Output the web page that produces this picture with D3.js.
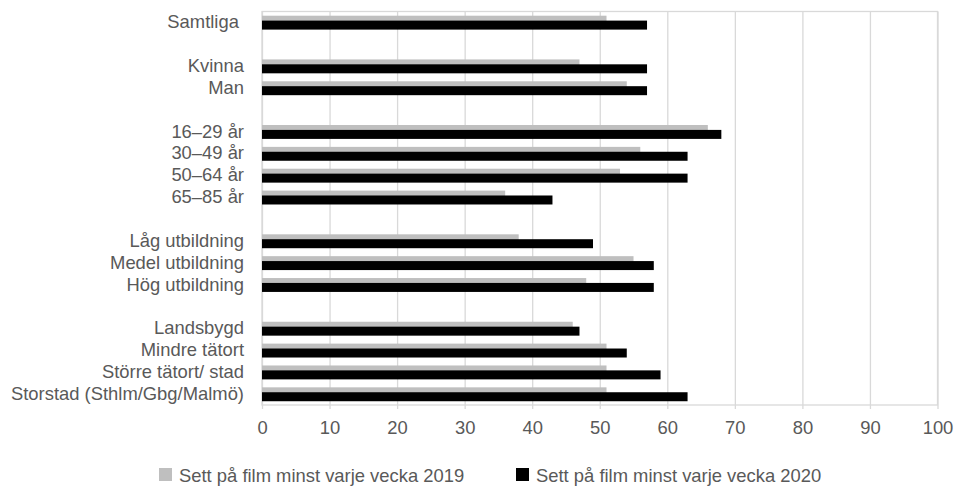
<!DOCTYPE html>
<html>
<head>
<meta charset="utf-8">
<script src="https://cdn.jsdelivr.net/npm/d3@7"></script>
<style>
  body { margin: 0; background: #fff; }
  text { font-family: "Liberation Sans", Arial, sans-serif; fill: #595959; }
</style>
</head>
<body>
<svg id="chart" width="955" height="491"></svg>
<script>
// Categories (empty strings are spacer rows)
const categories = [
  "Samtliga ", "",
  "Kvinna", "Man", "",
  "16–29 år", "30–49 år", "50–64 år", "65–85 år", "",
  "Låg utbildning", "Medel utbildning", "Hög utbildning", "",
  "Landsbygd", "Mindre tätort", "Större tätort/ stad", "Storstad (Sthlm/Gbg/Malmö)"
];
const values2019 = [51, null, 47, 54, null, 66, 56, 53, 36, null, 38, 55, 48, null, 46, 51, 51, 51];
const values2020 = [57, null, 57, 57, null, 68, 63, 63, 43, null, 49, 58, 58, null, 47, 54, 59, 63];
const seriesNames = ["Sett på film minst varje vecka 2019", "Sett på film minst varje vecka 2020"];
const seriesColors = ["#bfbfbf", "#000000"];
const xTicks = [0, 10, 20, 30, 40, 50, 60, 70, 80, 90, 100];

(function () {
const svg = d3.select("#chart");
const mLeft = 262, mRight = 937.5, mTop = 11.5, mBottom = 405;
const fs = 18.4;
const idx = categories.map((_, i) => i);

const x = d3.scaleLinear().domain([0, 100]).range([mLeft, mRight]);
const y = d3.scaleBand().domain(idx).range([mTop, mBottom]).padding(0);

// Gridlines
const grid = svg.append("g").attr("transform", `translate(0,${mBottom})`)
  .call(d3.axisBottom(x).tickValues(xTicks).tickSize(-(mBottom - mTop)).tickSizeOuter(0).tickFormat(""));
grid.select(".domain").remove();
grid.selectAll("line").attr("stroke", "#d9d9d9").attr("stroke-width", 1.3);

// small tick marks below
const tk = svg.append("g").attr("transform", `translate(0,${mBottom})`)
  .call(d3.axisBottom(x).tickValues(xTicks).tickSize(4).tickSizeOuter(0).tickFormat(""));
tk.select(".domain").remove();
tk.selectAll("line").attr("stroke", "#d9d9d9").attr("stroke-width", 1.3);

// Plot border
svg.append("rect").attr("x", x(0)).attr("y", mTop)
  .attr("width", x(100) - x(0)).attr("height", mBottom - mTop)
  .attr("fill", "none").attr("stroke", "#d9d9d9").attr("stroke-width", 1.3);

// Bars
const barH = 9;
svg.append("g").selectAll("rect")
  .data(idx.filter(i => values2019[i] != null))
  .join("rect")
  .attr("x", x(0))
  .attr("y", i => y(i) + 4.2)
  .attr("width", i => x(values2019[i]) - x(0))
  .attr("height", barH)
  .attr("fill", seriesColors[0]);

svg.append("g").selectAll("rect")
  .data(idx.filter(i => values2020[i] != null))
  .join("rect")
  .attr("x", x(0))
  .attr("y", i => y(i) + 9.1)
  .attr("width", i => x(values2020[i]) - x(0))
  .attr("height", barH)
  .attr("fill", seriesColors[1]);

// X axis labels
const xa = svg.append("g").attr("transform", `translate(0,${mBottom})`)
  .call(d3.axisBottom(x).tickValues(xTicks).tickSize(0).tickPadding(16));
xa.select(".domain").remove();
xa.selectAll("text").attr("font-size", fs).attr("fill", "#595959")
  .style("font-family", "'Liberation Sans', Arial, sans-serif");

// Y axis labels
const ya = svg.append("g").attr("transform", `translate(${mLeft},0)`)
  .call(d3.axisLeft(y).tickSize(0).tickPadding(18).tickFormat(i => categories[i]));
ya.select(".domain").remove();
ya.selectAll("text").attr("font-size", fs).attr("fill", "#595959")
  .style("white-space", "pre")
  .style("font-family", "'Liberation Sans', Arial, sans-serif");

// Legend
const legendX = [159, 516];
const leg = svg.append("g");
seriesNames.forEach((name, k) => {
  leg.append("rect").attr("x", legendX[k]).attr("y", 468).attr("width", 13).attr("height", 13)
    .attr("fill", seriesColors[k]);
  leg.append("text").attr("x", legendX[k] + 20).attr("y", 481.5)
    .attr("font-size", fs).text(name);
});
})();
</script>
</body>
</html>
